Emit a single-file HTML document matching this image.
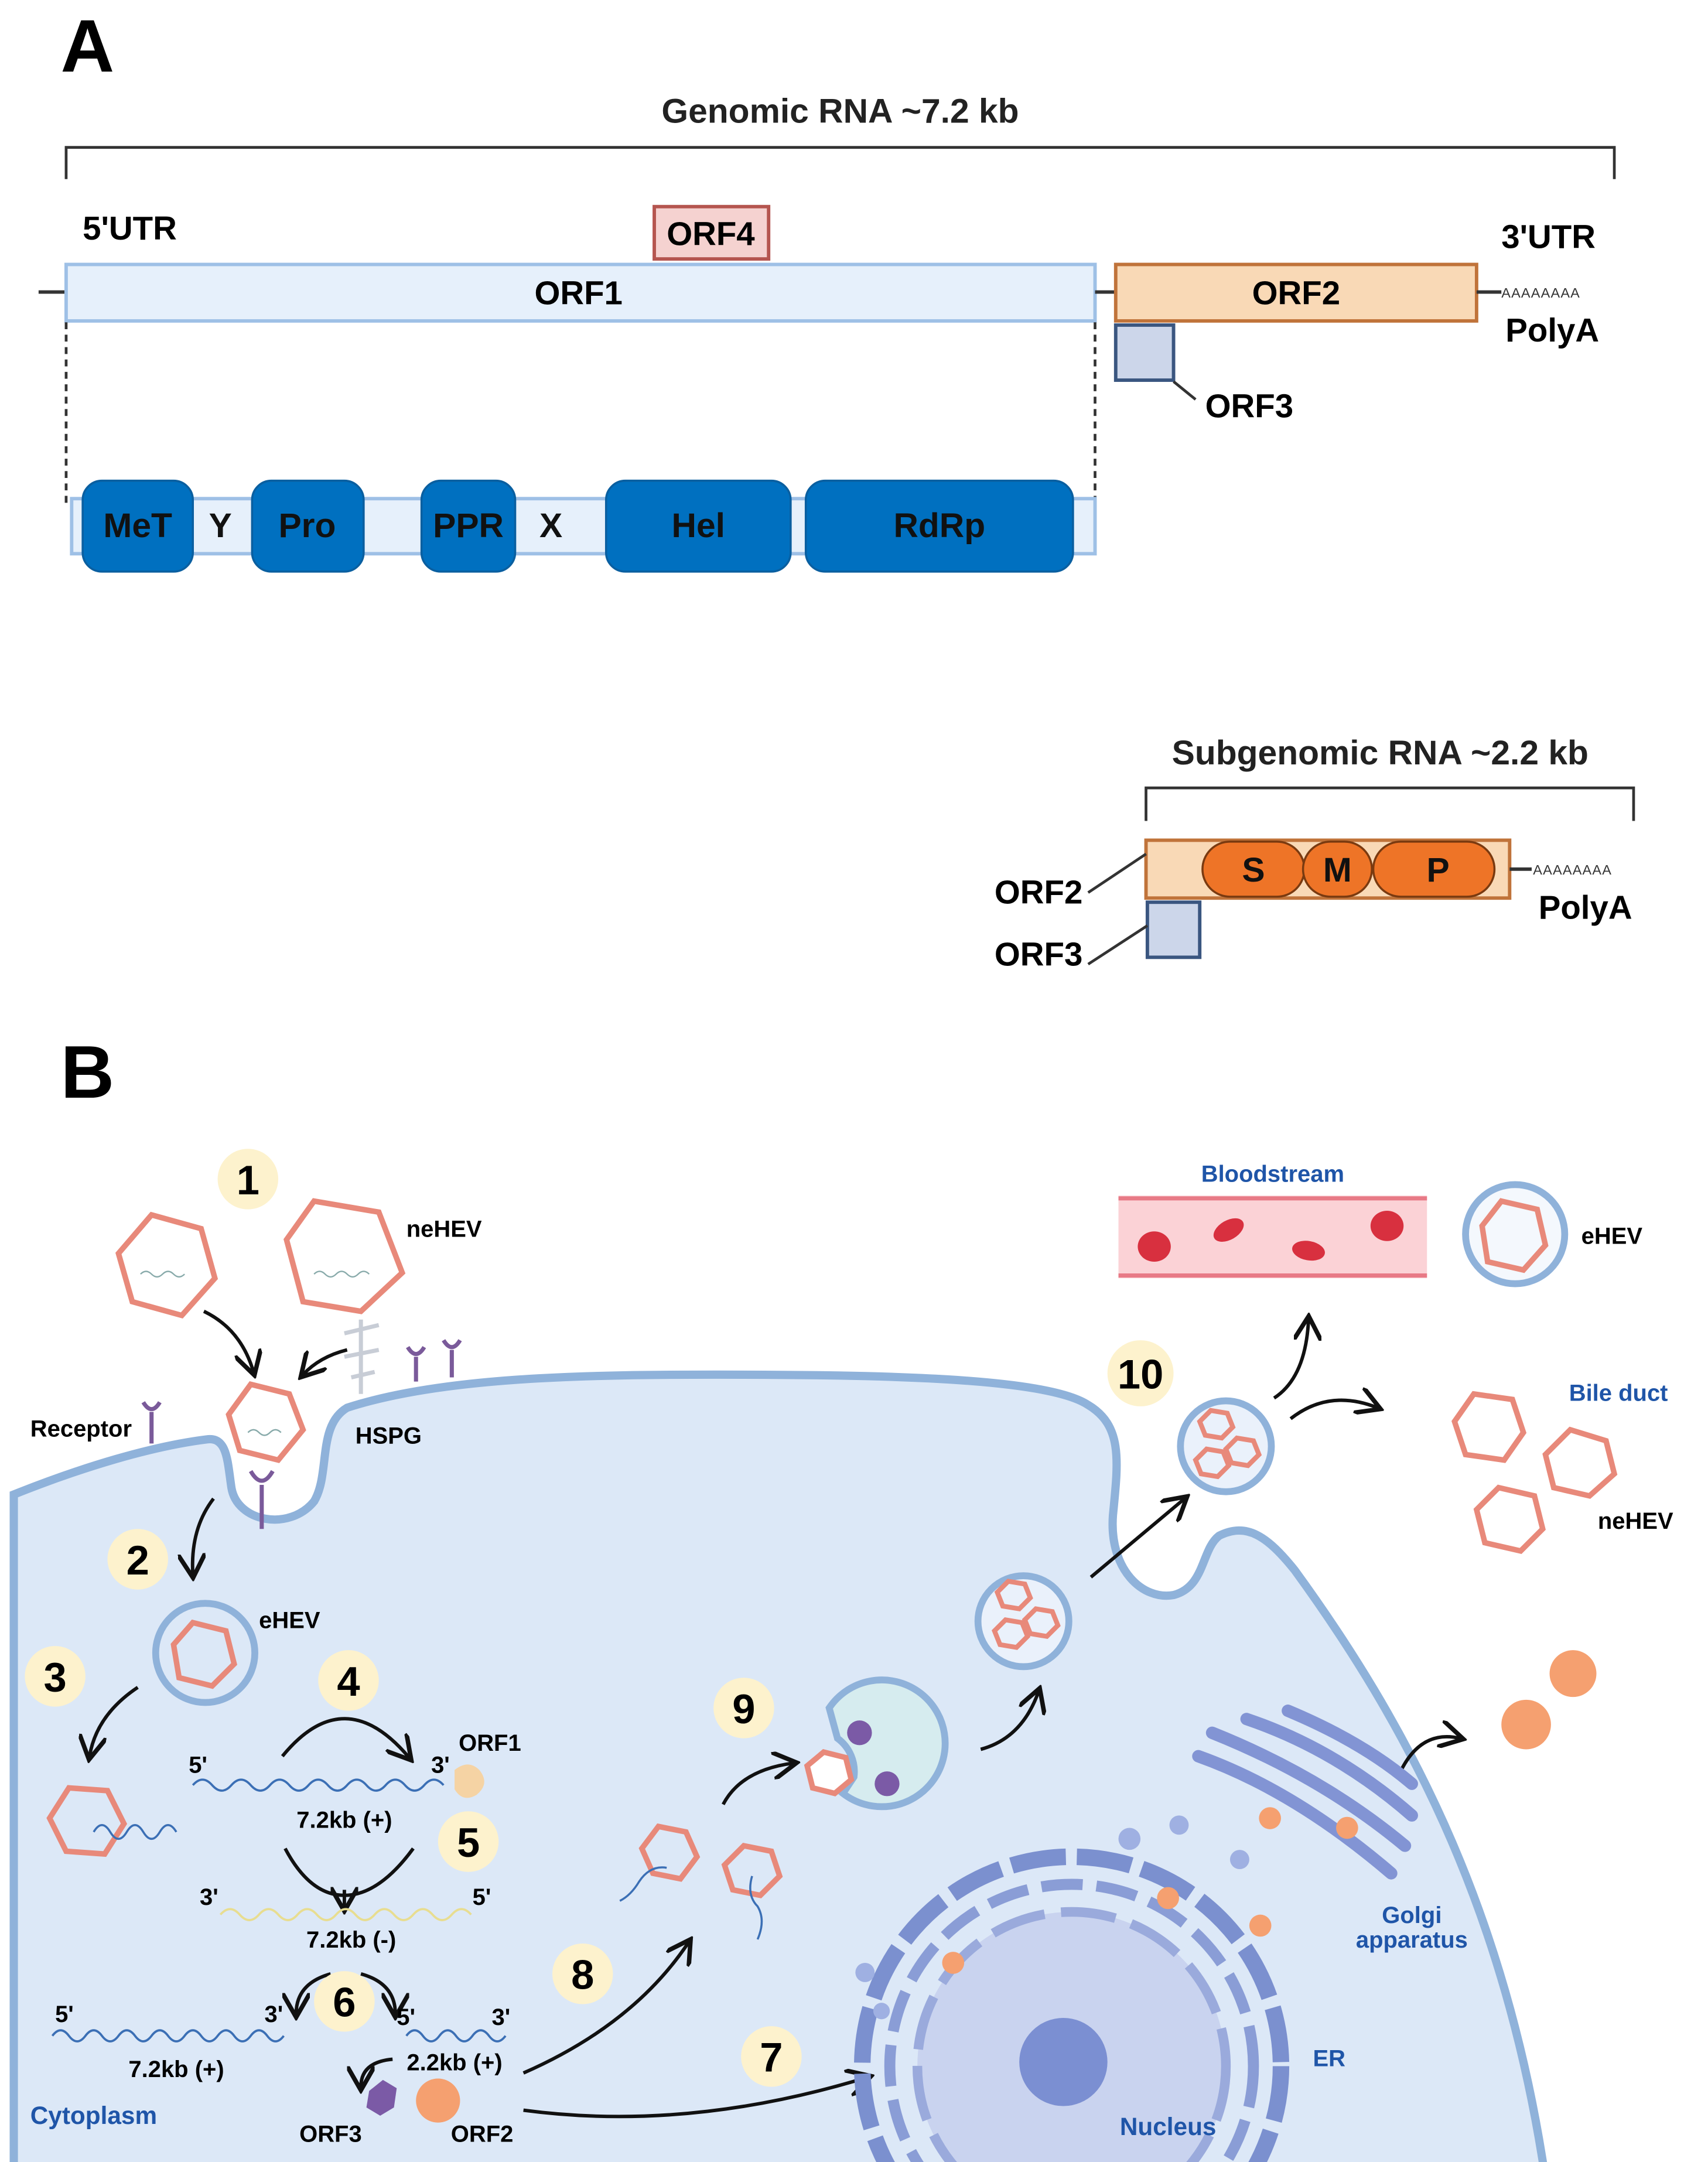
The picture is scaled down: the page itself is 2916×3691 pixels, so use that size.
<!DOCTYPE html>
<html><head><meta charset="utf-8"><style>
html,body{margin:0;padding:0;background:#fff;width:2916px;height:3691px;overflow:hidden}
svg{display:block}
text{font-family:"Liberation Sans",sans-serif}
</style></head><body>
<svg width="2916" height="3691" viewBox="0 0 1240 1569.6" xmlns="http://www.w3.org/2000/svg">
<defs>
<marker id="ah" markerWidth="8" markerHeight="8" refX="6" refY="4" orient="auto" markerUnits="strokeWidth">
<path d="M0,0 L7,4 L0,8" fill="none" stroke="#111" stroke-width="1.3"/>
</marker>
</defs>
<rect width="1240" height="1570" fill="#fff"/>

<!-- ===== PART A ===== -->
<text x="44" y="52" font-size="54" font-weight="bold">A</text>
<text x="610" y="89" font-size="25" font-weight="bold" text-anchor="middle" fill="#222">Genomic RNA ~7.2 kb</text>
<path d="M48,130 V107 H1172 V130" fill="none" stroke="#333" stroke-width="2"/>
<text x="60" y="174" font-size="24" font-weight="bold">5'UTR</text>
<text x="1090" y="180" font-size="24" font-weight="bold">3'UTR</text>
<rect x="475" y="150" width="83" height="38" fill="#f5d2d0" stroke="#b5554f" stroke-width="2.5"/>
<text x="516" y="178" font-size="24" font-weight="bold" text-anchor="middle">ORF4</text>
<line x1="28" y1="212" x2="48" y2="212" stroke="#333" stroke-width="2.5"/>
<rect x="48" y="192" width="747" height="41" fill="#e6f0fb" stroke="#9ec0e6" stroke-width="2.5"/>
<text x="420" y="221" font-size="24" font-weight="bold" text-anchor="middle">ORF1</text>
<line x1="795" y1="212" x2="810" y2="212" stroke="#333" stroke-width="2.5"/>
<rect x="810" y="192" width="262" height="41" fill="#f9d9b6" stroke="#c0733a" stroke-width="2.5"/>
<text x="941" y="221" font-size="24" font-weight="bold" text-anchor="middle">ORF2</text>
<line x1="1072" y1="212" x2="1090" y2="212" stroke="#333" stroke-width="2.5"/>
<text x="1090" y="216" font-size="10" fill="#333" letter-spacing="0.5">AAAAAAAA</text>
<text x="1093" y="248" font-size="24" font-weight="bold">PolyA</text>
<rect x="810" y="236" width="42" height="40" fill="#ccd6ea" stroke="#3a5680" stroke-width="2.5"/>
<line x1="852" y1="277" x2="868" y2="290" stroke="#333" stroke-width="2"/>
<text x="875" y="303" font-size="24" font-weight="bold">ORF3</text>
<line x1="48" y1="234" x2="48" y2="365" stroke="#333" stroke-width="2" stroke-dasharray="5,4"/>
<line x1="795" y1="234" x2="795" y2="365" stroke="#333" stroke-width="2" stroke-dasharray="5,4"/>
<rect x="52" y="362" width="743" height="40" fill="#e6f0fb" stroke="#9ec0e6" stroke-width="2.5"/>
<g fill="#0070c0" stroke="#0a5fa0" stroke-width="1.5">
<rect x="60" y="349" width="80" height="66" rx="14"/>
<rect x="183" y="349" width="81" height="66" rx="14"/>
<rect x="306" y="349" width="68" height="66" rx="14"/>
<rect x="440" y="349" width="134" height="66" rx="14"/>
<rect x="585" y="349" width="194" height="66" rx="14"/>
</g>
<g font-size="25" font-weight="bold" text-anchor="middle" fill="#111">
<text x="100" y="390">MeT</text><text x="160" y="390">Y</text>
<text x="223" y="390">Pro</text><text x="340" y="390">PPR</text>
<text x="400" y="390">X</text><text x="507" y="390">Hel</text>
<text x="682" y="390">RdRp</text>
</g>

<text x="1002" y="555" font-size="25" font-weight="bold" text-anchor="middle" fill="#222">Subgenomic RNA ~2.2 kb</text>
<path d="M832,596 V572 H1186 V596" fill="none" stroke="#333" stroke-width="2"/>
<rect x="832" y="610" width="264" height="42" fill="#f9d9b6" stroke="#c0733a" stroke-width="2.5"/>
<g fill="#ee7427" stroke="#7a3a10" stroke-width="1.5">
<rect x="873" y="611" width="74" height="40" rx="20"/>
<rect x="946" y="611" width="50" height="40" rx="20"/>
<rect x="997" y="611" width="88" height="40" rx="20"/>
</g>
<g font-size="25" font-weight="bold" text-anchor="middle" fill="#111">
<text x="910" y="640">S</text><text x="971" y="640">M</text><text x="1044" y="640">P</text>
</g>
<line x1="1096" y1="631" x2="1112" y2="631" stroke="#333" stroke-width="2.5"/>
<text x="1113" y="635" font-size="10" fill="#333" letter-spacing="0.5">AAAAAAAA</text>
<text x="1117" y="667" font-size="24" font-weight="bold">PolyA</text>
<rect x="833" y="655" width="38" height="40" fill="#ccd6ea" stroke="#3a5680" stroke-width="2.5"/>
<path d="M790,648 L832,620" stroke="#333" stroke-width="2" fill="none"/>
<path d="M790,700 L833,672" stroke="#333" stroke-width="2" fill="none"/>
<text x="722" y="656" font-size="24" font-weight="bold">ORF2</text>
<text x="722" y="701" font-size="24" font-weight="bold">ORF3</text>

<!-- ===== PART B ===== -->
<text x="44" y="797" font-size="54" font-weight="bold">B</text>

<!-- cell -->
<path d="M10,1085 C60,1065 110,1050 150,1045 C165,1043 165,1060 168,1080 C172,1105 210,1112 228,1090 C240,1070 230,1035 252,1022 C320,1000 420,998 520,998 C640,998 760,1000 790,1020 C815,1035 812,1060 808,1100 C805,1140 830,1162 852,1158 C875,1152 872,1125 885,1115 C905,1105 920,1115 940,1140 C1020,1250 1090,1380 1120,1569 L1124,1600 L10,1600 Z" fill="#dce8f7" stroke="#8fb2da" stroke-width="6"/>

<!-- Bloodstream -->
<text x="924" y="858" font-size="17" font-weight="bold" fill="#1f55a8" text-anchor="middle">Bloodstream</text>
<rect x="812" y="868" width="224" height="60" fill="#fbd2d6"/>
<path d="M812,870 H1036 M812,926 H1036" stroke="#e87a86" stroke-width="3"/>
<g fill="#d8303f">
<ellipse cx="838" cy="905" rx="12" ry="11"/><ellipse cx="892" cy="893" rx="12" ry="7" transform="rotate(-30 892 893)"/>
<ellipse cx="950" cy="908" rx="12" ry="7" transform="rotate(10 950 908)"/><ellipse cx="1007" cy="890" rx="12" ry="11"/>
</g>
<circle cx="1100" cy="896" r="36" fill="#f4f8fd" stroke="#8fb2da" stroke-width="5"/>
<polygon points="1090,872 1116,878 1122,904 1106,922 1080,916 1076,890" fill="none" stroke="#e8897a" stroke-width="4"/>
<text x="1148" y="903" font-size="17" font-weight="bold">eHEV</text>

<!-- Bile duct -->
<text x="1175" y="1017" font-size="17" font-weight="bold" fill="#1f55a8" text-anchor="middle">Bile duct</text>
<g fill="#fff" stroke="#e8897a" stroke-width="4">
<polygon points="1070,1012 1098,1016 1106,1040 1092,1060 1064,1056 1056,1032"/>
<polygon points="1140,1038 1166,1046 1172,1070 1154,1086 1128,1080 1122,1056"/>
<polygon points="1088,1080 1114,1086 1120,1110 1104,1126 1078,1120 1072,1096"/>
</g>
<text x="1160" y="1110" font-size="17" font-weight="bold">neHEV</text>

<!-- outside virions -->
<circle cx="180" cy="856" r="22" fill="#fdf2cd"/><text x="180" y="867" font-size="30" font-weight="bold" text-anchor="middle">1</text>
<g fill="#fff" stroke="#e8897a" stroke-width="4">
<polygon points="110,882 146,892 156,928 132,955 96,945 86,910"/>
<polygon points="228,872 275,880 292,924 262,952 220,945 208,900"/>
<polygon points="182,1005 210,1012 220,1038 202,1060 174,1053 166,1027"/>
</g>
<g fill="none" stroke="#8aa" stroke-width="1">
<path d="M102,925 q4,-4 8,0 t8,0 t8,0 t8,0"/><path d="M228,925 q4,-4 8,0 t8,0 t8,0 t8,0 t8,0"/><path d="M180,1040 q4,-4 8,0 t8,0 t8,0"/>
</g>
<text x="295" y="898" font-size="17" font-weight="bold">neHEV</text>
<!-- HSPG -->
<path d="M262,958 V1012 M250,968 L275,962 M250,985 L275,980 M255,1000 L272,996" stroke="#c8cdd6" stroke-width="3" fill="none"/>
<text x="258" y="1048" font-size="17" font-weight="bold">HSPG</text>
<!-- receptors -->
<g stroke="#7a5a9a" stroke-width="3" fill="none">
<path d="M110,1048 V1025 M104,1018 q6,10 12,0"/>
<path d="M302,1003 V985 M296,978 q6,10 12,0"/>
<path d="M328,1000 V980 M322,973 q6,10 12,0"/>
<path d="M190,1110 V1078 M182,1068 q8,14 16,0"/>
</g>
<text x="22" y="1043" font-size="17" font-weight="bold">Receptor</text>

<!-- arrows -->
<g fill="none" stroke="#111" stroke-width="2.5">
<path d="M207,1342 Q225,1376 250,1376 Q275,1376 300,1342"/>
</g>
<g fill="none" stroke="#111" stroke-width="2.5" marker-end="url(#ah)">
<path d="M148,952 Q175,965 184,996"/>
<path d="M252,980 Q232,985 220,998"/>
<path d="M155,1088 Q138,1110 140,1143"/>
<path d="M100,1225 Q70,1245 65,1275"/>
<path d="M205,1275 Q250,1220 297,1276"/>
<path d="M250,1372 L250,1385"/>
<path d="M240,1433 Q215,1440 215,1462"/>
<path d="M262,1433 Q287,1440 287,1462"/>
<path d="M285,1495 Q262,1497 262,1515"/>
<path d="M380,1505 Q460,1470 500,1410"/>
<path d="M380,1532 Q500,1548 630,1508"/>
<path d="M525,1310 Q538,1285 576,1280"/>
<path d="M712,1270 Q742,1262 754,1228"/>
<path d="M792,1145 L860,1088"/>
<path d="M925,1015 Q948,1000 950,958"/>
<path d="M937,1030 Q965,1008 1000,1022"/>
<path d="M1015,1290 Q1030,1255 1060,1262"/>
</g>

<!-- numbers -->
<g fill="#fdf2cd">
<circle cx="100" cy="1132" r="22"/><circle cx="40" cy="1217" r="22"/><circle cx="253" cy="1220" r="22"/>
<circle cx="340" cy="1337" r="22"/><circle cx="250" cy="1453" r="22"/><circle cx="560" cy="1493" r="22"/>
<circle cx="423" cy="1433" r="22"/><circle cx="540" cy="1240" r="22"/><circle cx="828" cy="997" r="24"/>
</g>
<g font-size="30" font-weight="bold" text-anchor="middle">
<text x="100" y="1143">2</text><text x="40" y="1228">3</text><text x="253" y="1231">4</text>
<text x="340" y="1348">5</text><text x="250" y="1464">6</text><text x="560" y="1504">7</text>
<text x="423" y="1444">8</text><text x="540" y="1251">9</text><text x="828" y="1008">10</text>
</g>

<!-- eHEV entering -->
<circle cx="149" cy="1200" r="36" fill="#dce8f7" stroke="#8fb2da" stroke-width="5"/>
<polygon points="140,1178 164,1184 170,1208 154,1224 130,1218 126,1194" fill="none" stroke="#e8897a" stroke-width="4"/>
<text x="188" y="1182" font-size="17" font-weight="bold">eHEV</text>
<polygon points="50,1298 78,1300 90,1324 76,1346 48,1344 36,1320" fill="none" stroke="#e8897a" stroke-width="4"/>
<path d="M68,1330 q6,-10 12,0 t12,0 t12,0 t12,0 t12,0" fill="none" stroke="#3b6fb5" stroke-width="1.5"/>

<!-- RNAs -->
<g font-size="17" font-weight="bold">
<text x="137" y="1287">5'</text><text x="313" y="1287">3'</text><text x="333" y="1271">ORF1</text>
<text x="250" y="1327" text-anchor="middle">7.2kb (+)</text>
<text x="145" y="1383">3'</text><text x="343" y="1383">5'</text>
<text x="255" y="1414" text-anchor="middle">7.2kb (-)</text>
<text x="40" y="1468">5'</text><text x="192" y="1468">3'</text>
<text x="128" y="1508" text-anchor="middle">7.2kb (+)</text>
<text x="288" y="1470">5'</text><text x="357" y="1470">3'</text>
<text x="330" y="1503" text-anchor="middle">2.2kb (+)</text>
<text x="240" y="1555" text-anchor="middle">ORF3</text><text x="350" y="1555" text-anchor="middle">ORF2</text>
</g>
<g fill="none" stroke-width="1.6">
<path stroke="#3b6fb5" d="M140,1296 q7,-8 14,0 t14,0 t14,0 t14,0 t14,0 t14,0 t14,0 t14,0 t14,0 t14,0 t14,0 t14,0 t14,0"/>
<path stroke="#e8dd90" d="M160,1390 q7,-8 14,0 t14,0 t14,0 t14,0 t14,0 t14,0 t14,0 t14,0 t14,0 t14,0 t14,0 t14,0 t14,0"/>
<path stroke="#3b6fb5" d="M38,1478 q6,-8 12,0 t12,0 t12,0 t12,0 t12,0 t12,0 t12,0 t12,0 t12,0 t12,0 t12,0 t12,0 t12,0 t12,0"/>
<path stroke="#3b6fb5" d="M295,1478 q6,-8 12,0 t12,0 t12,0 t12,0 t12,0 t12,0"/>
</g>
<path d="M330,1285 q10,-8 18,0 q8,10 -2,18 q-10,6 -16,-4 z" fill="#f5d3a4"/>
<path d="M268,1518 l10,-8 l10,6 l-2,14 l-10,6 l-10,-6 z" fill="#7b5aa6"/>
<circle cx="318" cy="1525" r="16" fill="#f5a070"/>
<text x="22" y="1542" font-size="18" font-weight="bold" fill="#1f55a8">Cytoplasm</text>

<!-- 8 virions -->
<g fill="none" stroke="#e8897a" stroke-width="4">
<polygon points="478,1326 498,1330 506,1348 494,1364 474,1360 466,1342"/>
<polygon points="540,1340 560,1344 566,1362 552,1376 532,1372 526,1354"/>
</g>
<path d="M450,1380 q8,-4 14,-14 q8,-12 20,-10 M546,1362 q-4,14 4,22 q6,10 0,24" fill="none" stroke="#3b6fb5" stroke-width="1.5"/>

<!-- 9 endosome -->
<path d="M602,1240 A46,46 0 1 1 612,1302 L620,1290 A30,30 0 0 0 608,1262 Z" fill="#d6ecef" stroke="#8fb2da" stroke-width="5"/>
<polygon points="598,1272 614,1276 618,1292 606,1302 590,1298 586,1282" fill="#fff" stroke="#e8897a" stroke-width="4"/>
<circle cx="624" cy="1258" r="9" fill="#7b5aa6"/><circle cx="644" cy="1295" r="9" fill="#7b5aa6"/>

<!-- MVBs -->
<circle cx="743" cy="1177" r="33" fill="#eaf1fb" stroke="#8fb2da" stroke-width="5"/>
<circle cx="890" cy="1050" r="33" fill="#eaf1fb" stroke="#8fb2da" stroke-width="5"/>
<g fill="none" stroke="#e8897a" stroke-width="3.5">
<polygon points="732,1148 744,1150 748,1160 740,1168 728,1166 724,1156"/>
<polygon points="730,1176 742,1178 746,1188 738,1196 726,1194 722,1184"/>
<polygon points="752,1168 764,1170 768,1180 760,1188 748,1186 744,1176"/>
<polygon points="879,1024 891,1026 895,1036 887,1044 875,1042 871,1032"/>
<polygon points="876,1052 888,1054 892,1064 884,1072 872,1070 868,1060"/>
<polygon points="898,1044 910,1046 914,1056 906,1064 894,1062 890,1052"/>
</g>

<!-- orange particles outside -->
<circle cx="1142" cy="1215" r="17" fill="#f5a070"/><circle cx="1108" cy="1252" r="18" fill="#f5a070"/>

<!-- Nucleus / ER -->
<circle cx="778" cy="1500" r="152" fill="none" stroke="#7b90cf" stroke-width="12" stroke-dasharray="40,8"/>
<circle cx="778" cy="1500" r="132" fill="none" stroke="#8a9dd6" stroke-width="8" stroke-dasharray="30,10"/>
<circle cx="778" cy="1500" r="112" fill="#c9d3ef" stroke="#9aaadc" stroke-width="7" stroke-dasharray="40,12"/>
<circle cx="772" cy="1497" r="32" fill="#7b8fd2"/>
<g fill="#9fb0e2"><circle cx="628" cy="1432" r="7"/><circle cx="640" cy="1460" r="6"/><circle cx="820" cy="1335" r="8"/><circle cx="856" cy="1325" r="7"/><circle cx="900" cy="1350" r="7"/></g>
<g fill="#f5a070"><circle cx="692" cy="1425" r="8"/><circle cx="848" cy="1378" r="8"/><circle cx="915" cy="1398" r="8"/></g>
<text x="848" y="1550" font-size="18" font-weight="bold" fill="#1f55a8" text-anchor="middle">Nucleus</text>
<text x="965" y="1500" font-size="17" font-weight="bold" fill="#1f55a8" text-anchor="middle">ER</text>

<!-- Golgi -->
<g fill="none" stroke="#8294d4" stroke-width="9" stroke-linecap="round">
<path d="M870,1275 Q940,1300 1010,1360"/>
<path d="M880,1258 Q960,1290 1020,1340"/>
<path d="M905,1248 Q970,1270 1025,1318"/>
<path d="M935,1242 Q990,1265 1025,1295"/>
</g>
<g fill="#f5a070"><circle cx="922" cy="1320" r="8"/><circle cx="978" cy="1327" r="8"/></g>
<text x="1025" y="1396" font-size="17" font-weight="bold" fill="#1f55a8" text-anchor="middle">Golgi</text>
<text x="1025" y="1414" font-size="17" font-weight="bold" fill="#1f55a8" text-anchor="middle">apparatus</text>
</svg>
</body></html>
